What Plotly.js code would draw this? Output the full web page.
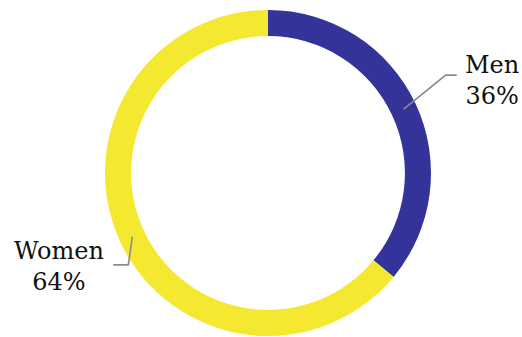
<!DOCTYPE html>
<html><head><meta charset="utf-8">
<script src="https://cdn.plot.ly/plotly-3.0.1.min.js"></script>
<style>html,body{margin:0;padding:0;background:#fff}</style>
</head><body>
<div id="chart" style="width:522px;height:337px"></div>
<script>
const labels = ["Men", "Women"];
const values = [36, 64];
const colors = ["#343399", "#f5e831"];

// layout constants (pixels)
const W = 522, H = 337;
const M = {l: 34, r: 20, t: 10, b: 1};
const HOLE = 0.84;
// leader-line elbow offsets from the slice anchor, horizontal tail, label offset from tail end
const elbow = [[42, -34], [-4, 28]];
const tail = [11, -15];
const labelOff = [[35, 5], [-54, 2]];

const plotW = W - M.l - M.r, plotH = H - M.t - M.b;
const R = Math.min(plotW, plotH) / 2;
const cx = M.l + plotW / 2, cy = M.t + plotH / 2;
const rMid = R * (1 + HOLE) / 2;
const px2x = p => (p - M.l) / plotW;
const px2y = p => (H - M.b - p) / plotH;

const total = values.reduce((a, b) => a + b, 0);
let cum = 0;
const shapes = [], annotations = [];
values.forEach((v, i) => {
  const mid = (cum + v / 2) / total * 2 * Math.PI; // clockwise from top
  cum += v;
  const sx = cx + rMid * Math.sin(mid), sy = cy - rMid * Math.cos(mid);
  const ex = sx + elbow[i][0], ey = sy + elbow[i][1];
  const tx = ex + tail[i];
  shapes.push({
    type: "path", xref: "paper", yref: "paper",
    path: `M${px2x(sx)},${px2y(sy)} L${px2x(ex)},${px2y(ey)} L${px2x(tx)},${px2y(ey)}`,
    line: {color: "#8a8a8a", width: 1.6}
  });
  annotations.push({
    xref: "paper", yref: "paper",
    x: px2x(tx + labelOff[i][0]), y: px2y(ey + labelOff[i][1]),
    xanchor: "center", yanchor: "middle", showarrow: false, align: "center",
    text: labels[i] + "<br>" + Math.round(v / total * 100) + "%",
    font: {family: "DejaVu Serif, serif", size: 24, color: "#111"}
  });
});

Plotly.newPlot("chart", [{
  type: "pie",
  labels: labels,
  values: values,
  hole: HOLE,
  sort: false,
  direction: "clockwise",
  rotation: 0,
  marker: {colors: colors},
  textinfo: "none",
  automargin: false,
  showlegend: false,
  hoverinfo: "none"
}], {
  width: W, height: H,
  margin: M,
  paper_bgcolor: "#fff",
  showlegend: false,
  shapes: shapes,
  annotations: annotations
}, {displayModeBar: false, staticPlot: true});
</script>
</body></html>
